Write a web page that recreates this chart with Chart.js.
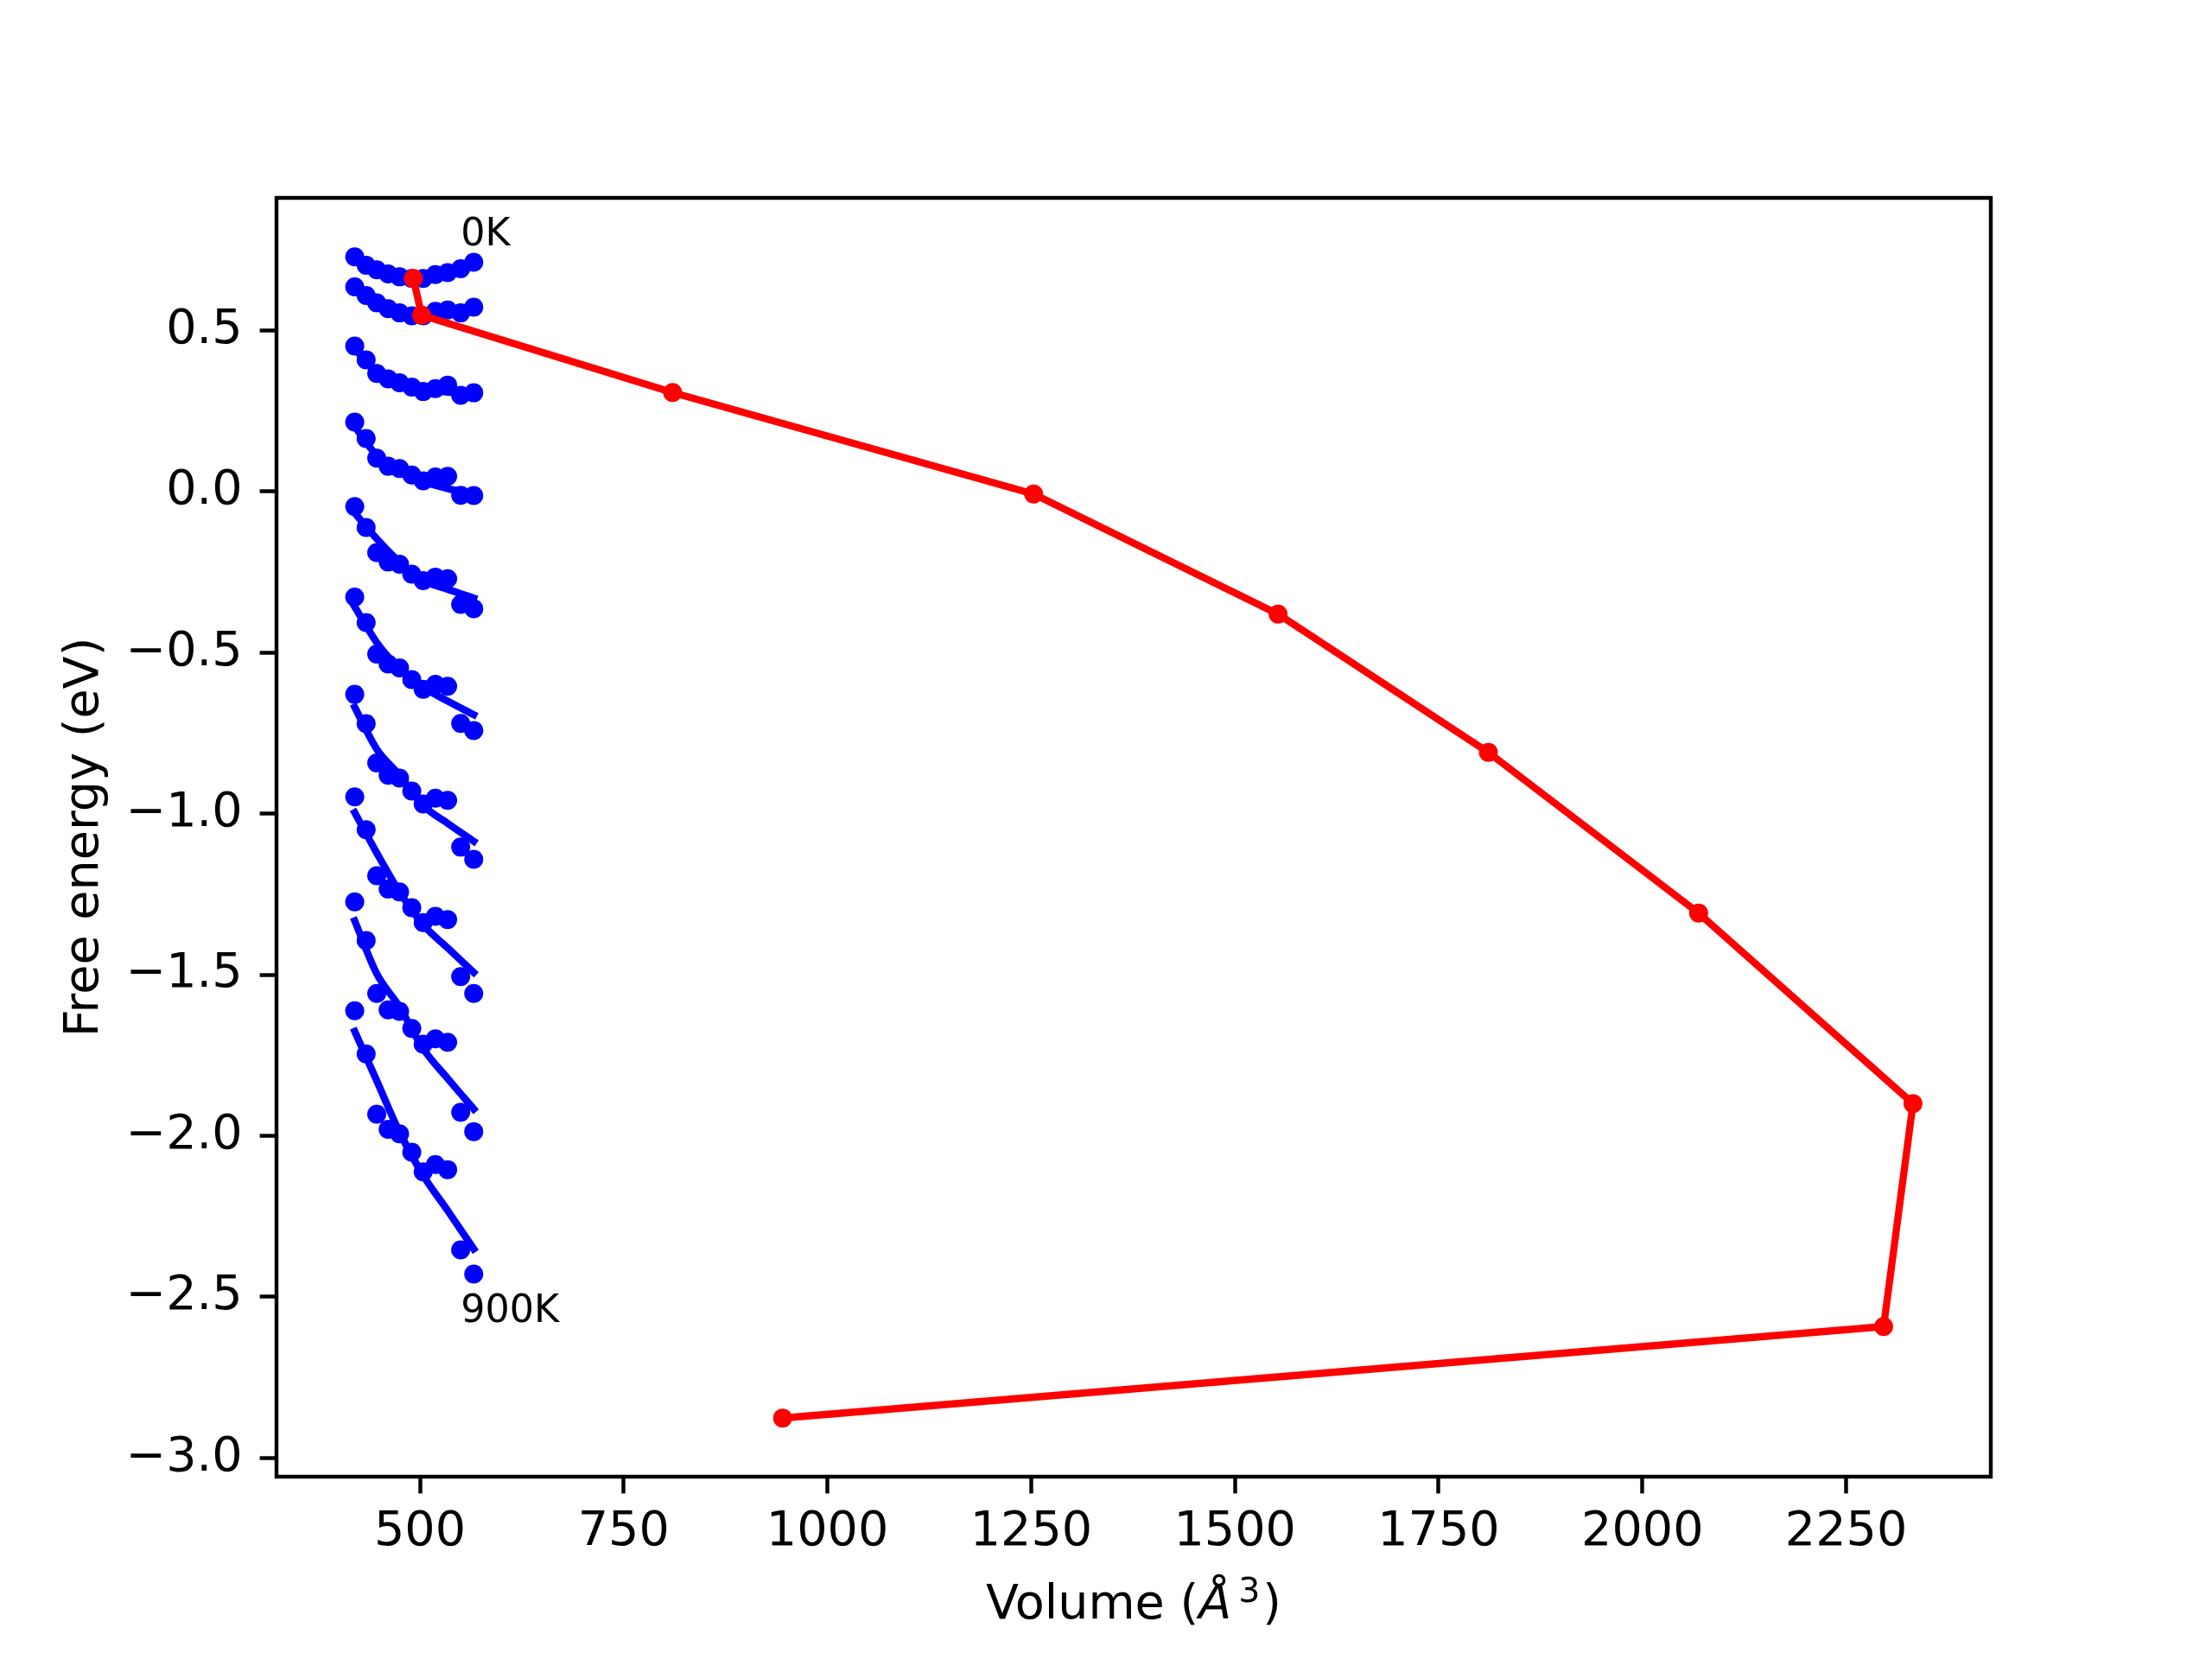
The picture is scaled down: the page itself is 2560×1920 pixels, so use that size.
<!DOCTYPE html>
<html>
<head>
<meta charset="utf-8">
<script src="https://cdn.jsdelivr.net/npm/chart.js@4"></script>
<style>
html,body{margin:0;padding:0;background:#fff;}
canvas{display:block;}
</style>
</head>
<body>
<canvas id="c" width="2560" height="1920"></canvas>
<script>
// ---- data ----
const temps = ['0K','100K','200K','300K','400K','500K','600K','700K','800K','900K'];
const volumes = [420, 434, 447, 461, 475, 490, 504, 519, 534, 550, 566];
const F0   = [0.728, 0.702, 0.688, 0.675, 0.666, 0.661, 0.661, 0.673, 0.679, 0.691, 0.711];
const F100 = [0.635, 0.608, 0.585, 0.567, 0.554, 0.545, 0.545, 0.559, 0.563, 0.554, 0.572];
const F200 = [0.451, 0.408, 0.366, 0.349, 0.337, 0.324, 0.310, 0.319, 0.330, 0.298, 0.306];
const F300 = [0.215, 0.164, 0.103, 0.078, 0.071, 0.051, 0.033, 0.045, 0.047, -0.012, -0.013];
const F400 = [-0.047, -0.112, -0.190, -0.219, -0.226, -0.257, -0.277, -0.266, -0.271, -0.351, -0.364];
const F500 = [-0.328, -0.407, -0.505, -0.536, -0.548, -0.584, -0.614, -0.599, -0.605, -0.720, -0.742];
const F600 = [-0.630, -0.721, -0.843, -0.881, -0.890, -0.930, -0.970, -0.952, -0.959, -1.104, -1.142];
const F700 = [-0.948, -1.050, -1.193, -1.234, -1.243, -1.292, -1.338, -1.319, -1.329, -1.506, -1.558];
const F800 = [-1.274, -1.394, -1.558, -1.609, -1.614, -1.667, -1.716, -1.699, -1.710, -1.927, -1.987];
const F900 = [-1.612, -1.746, -1.933, -1.980, -1.994, -2.051, -2.112, -2.089, -2.105, -2.354, -2.429];
const pointSeries = [F0, F100, F200, F300, F400, F500, F600, F700, F800, F900];

const fitVolumes = [420, 447, 475, 504, 534, 566];
const fit0   = [0.721, 0.688, 0.668, 0.663, 0.677, 0.709];
const fit100 = [0.630, 0.585, 0.559, 0.550, 0.559, 0.572];
const fit200 = [0.442, 0.371, 0.335, 0.317, 0.308, 0.304];
const fit300 = [0.201, 0.112, 0.067, 0.031, 0.009, -0.009];
const fit400 = [-0.067, -0.147, -0.219, -0.277, -0.304, -0.331];
const fit500 = [-0.358, -0.469, -0.550, -0.608, -0.651, -0.693];
const fit600 = [-0.670, -0.800, -0.881, -0.975, -1.030, -1.086];
const fit700 = [-0.997, -1.122, -1.243, -1.345, -1.417, -1.493];
const fit800 = [-1.333, -1.497, -1.600, -1.730, -1.822, -1.917];
const fit900 = [-1.676, -1.829, -1.989, -2.123, -2.232, -2.351];
const fitSeries = [fit0, fit100, fit200, fit300, fit400, fit500, fit600, fit700, fit800, fit900];

const minVolume = [492, 502, 810, 1253, 1553, 1811, 2069, 2332, 2296, 945];
const minEnergy = [0.661, 0.547, 0.307, -0.008, -0.381, -0.810, -1.309, -1.900, -2.592, -2.876];

const xTicks = [500, 750, 1000, 1250, 1500, 1750, 2000, 2250];
const yTicks = [-3.0, -2.5, -2.0, -1.5, -1.0, -0.5, 0.0, 0.5];

const annotations = [
  {text: '0K',   x: 550, y: 0.764},
  {text: '900K', x: 550, y: -2.579}
];

// ---- build datasets ----
const BLUE = '#0000ff', RED = '#ff0000';
const datasets = [];
pointSeries.forEach((s, i) => {
  datasets.push({
    label: temps[i] + ' data',
    data: volumes.map((v, j) => ({x: v, y: s[j]})),
    showLine: false,
    pointRadius: 11, pointBorderWidth: 0,
    pointBackgroundColor: BLUE, pointBorderColor: BLUE,
    order: 2
  });
});
fitSeries.forEach((s, i) => {
  datasets.push({
    label: temps[i] + ' fit',
    data: fitVolumes.map((v, j) => ({x: v, y: s[j]})),
    showLine: true,
    pointRadius: 0,
    borderColor: BLUE, borderWidth: 8.33,
    borderCapStyle: 'square',
    cubicInterpolationMode: 'monotone',
    order: 1
  });
});
datasets.push({
  label: 'minimum',
  data: minVolume.map((v, j) => ({x: v, y: minEnergy[j]})),
  showLine: true,
  borderColor: RED, borderWidth: 8.33,
  borderJoinStyle: 'round', borderCapStyle: 'square',
  pointRadius: 11, pointBorderWidth: 0,
  pointBackgroundColor: RED, pointBorderColor: RED,
  tension: 0,
  order: 0
});

const FONT = '"DejaVu Sans", sans-serif';
const fmt = v => {
  const s = Math.abs(v).toFixed(1);
  return (v < -1e-9 ? '\u2212' : '') + s;
};

const framePlugin = {
  id: 'frame',
  afterDatasetsDraw(chart) {
    const {ctx, chartArea: a} = chart;
    ctx.save();
    ctx.strokeStyle = '#000';
    ctx.lineWidth = 4.44;
    ctx.lineJoin = 'miter';
    ctx.strokeRect(a.left, a.top, a.right - a.left, a.bottom - a.top);
    ctx.restore();
  },
  afterDraw(chart) {
    const {ctx, chartArea: a, scales} = chart;
    ctx.save();
    ctx.fillStyle = '#000';
    // annotations
    ctx.font = '44.4px ' + FONT;
    ctx.textAlign = 'left';
    ctx.textBaseline = 'alphabetic';
    annotations.forEach(t => {
      ctx.fillText(t.text, scales.x.getPixelForValue(t.x), scales.y.getPixelForValue(t.y));
    });
    // x title: Volume (Å^3)
    const base = 1873;
    const p1 = 'Volume (', p2 = '\u00C5', p3 = '3', p4 = ')';
    const fN = '55.6px ' + FONT, fI = 'oblique 55.6px ' + FONT, fS = '39.5px ' + FONT;
    ctx.font = fN; const w1 = ctx.measureText(p1).width; const w4 = ctx.measureText(p4).width;
    ctx.font = fI; const w2 = ctx.measureText(p2).width;
    ctx.font = fS; const w3 = ctx.measureText(p3).width;
    const gap = 8;
    const total = w1 + w2 + gap + w3 + w4 + 3;
    let x = (a.left + a.right) / 2 - total / 2;
    ctx.textAlign = 'left';
    ctx.font = fN; ctx.fillText(p1, x, base); x += w1;
    ctx.font = fI; ctx.fillText(p2, x, base); x += w2 + gap;
    ctx.font = fS; ctx.fillText(p3, x, base - 19); x += w3 + 3;
    ctx.font = fN; ctx.fillText(p4, x, base);
    // y title
    ctx.translate(113, (a.top + a.bottom) / 2);
    ctx.rotate(-Math.PI / 2);
    ctx.font = fN;
    ctx.textAlign = 'center';
    ctx.fillText('Free energy (eV)', 0, 0);
    ctx.restore();
  }
};

new Chart(document.getElementById('c'), {
  type: 'scatter',
  data: {datasets},
  options: {
    responsive: false,
    animation: false,
    devicePixelRatio: 1,
    layout: {padding: {left: 0, right: 256, top: 229, bottom: 0}},
    plugins: {legend: {display: false}, tooltip: {enabled: false}, title: {display: false}},
    scales: {
      x: {
        type: 'linear', position: 'bottom',
        min: 324, max: 2427.5,
        afterFit: s => { s.height = 211; },
        afterBuildTicks: s => { s.ticks = xTicks.map(v => ({value: v})); },
        ticks: {
          color: '#000', font: {family: FONT, size: 55.6},
          padding: 12, maxRotation: 0, autoSkip: false,
          callback: v => String(v)
        },
        grid: {drawOnChartArea: false, drawTicks: true, tickLength: 19.4, tickWidth: 4.44, tickColor: '#000'},
        border: {display: false}
      },
      y: {
        type: 'linear', position: 'left',
        min: -3.058, max: 0.911,
        afterFit: s => { s.width = 320; },
        afterBuildTicks: s => { s.ticks = yTicks.map(v => ({value: v})); },
        ticks: {
          color: '#000', font: {family: FONT, size: 55.6},
          padding: 20, autoSkip: false,
          callback: v => fmt(v)
        },
        grid: {drawOnChartArea: false, drawTicks: true, tickLength: 19.4, tickWidth: 4.44, tickColor: '#000'},
        border: {display: false}
      }
    }
  },
  plugins: [framePlugin]
});
</script>
</body>
</html>
